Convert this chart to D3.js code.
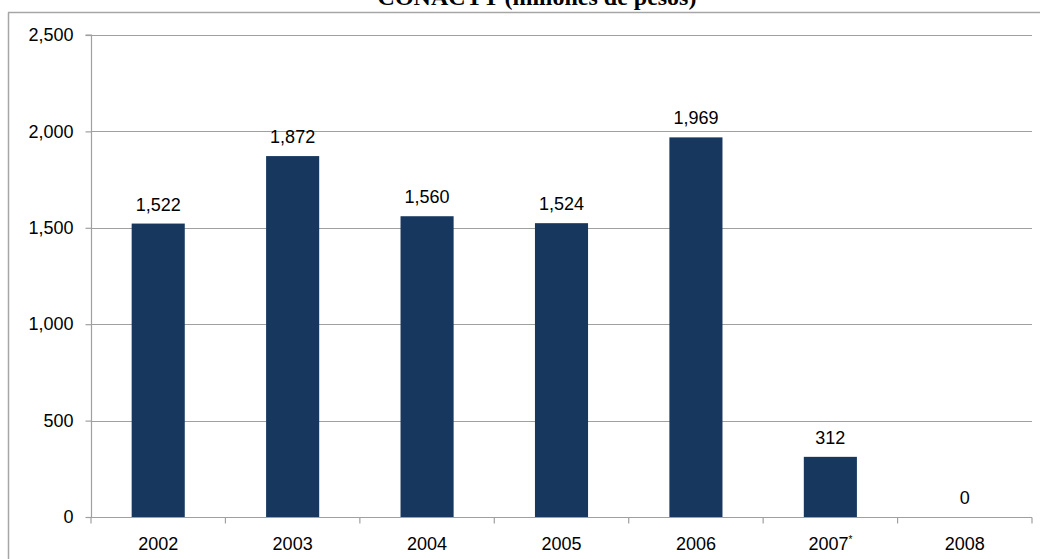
<!DOCTYPE html>
<html><head><meta charset="utf-8">
<script src="https://cdn.jsdelivr.net/npm/d3@7"></script>
<style>body{margin:0;background:#fff}svg{display:block}</style>
</head><body>
<svg id="c" width="1040" height="559"></svg>
<script>
const categories = ["2002","2003","2004","2005","2006","2007","2008"];
const values = [1522,1872,1560,1524,1969,312,0];
const yTicks = [0,500,1000,1500,2000,2500];
const titleText = "CONACYT (millones de pesos)";

const svg = d3.select("#c");
const m = {left:91, right:1032, top:35, bottom:517};
const x = d3.scaleBand().domain(categories).range([m.left,m.right]).paddingInner(0.605).paddingOuter(0.3025);
const y = d3.scaleLinear().domain([0,2500]).range([m.bottom,m.top]);
const fmt = d3.format(",");
const font = "'Liberation Sans', Arial, sans-serif";
const fs = 18;

// outer frame
svg.append("line").attr("x1",8.5).attr("x2",8.5).attr("y1",12.5).attr("y2",559).attr("stroke","#a6a6a6").attr("stroke-width",1.5);
svg.append("line").attr("x1",8).attr("x2",1040).attr("y1",12.5).attr("y2",12.5).attr("stroke","#a6a6a6").attr("stroke-width",1.5);

// title
svg.append("text").attr("x",537).attr("y",5).attr("text-anchor","middle")
  .attr("font-family","'Liberation Serif','Times New Roman',serif").attr("font-weight","bold").attr("font-size",24)
  .text(titleText);

// gridlines
svg.append("g").selectAll("line").data(yTicks.filter(d=>d>0)).join("line")
  .attr("x1",m.left).attr("x2",m.right).attr("y1",d=>Math.round(y(d))+0.5).attr("y2",d=>Math.round(y(d))+0.5)
  .attr("stroke","#a0a0a0").attr("stroke-width",1.2);

// y axis
const ya = svg.append("g").attr("transform",`translate(${m.left+0.5},0)`)
  .call(d3.axisLeft(y).tickValues(yTicks).tickFormat(fmt).tickSize(6).tickPadding(12));
ya.select(".domain").attr("stroke","#a0a0a0").attr("stroke-width",1.2).attr("d",`M-6,${m.top}H0V${m.bottom}`);
ya.selectAll(".tick line").attr("stroke","#a0a0a0").attr("stroke-width",1.2);
ya.selectAll("text").attr("font-family",font).attr("font-size",fs).attr("fill","#000");

// bars
svg.append("g").selectAll("rect").data(values).join("rect")
  .attr("x",(d,i)=>x(categories[i])).attr("width",x.bandwidth())
  .attr("y",d=>y(d)).attr("height",d=>y(0)-y(d)).attr("fill","#17375e");

// x axis
const xa = svg.append("g").attr("transform",`translate(0,${Math.round(m.bottom)+0.5})`);
xa.append("line").attr("x1",m.left).attr("x2",m.right).attr("stroke","#a0a0a0").attr("stroke-width",1.2);
const step = x.step();
const bounds = d3.range(categories.length+1).map(i=>m.left+i*step);
xa.selectAll("line.tk").data(bounds).join("line").attr("class","tk")
  .attr("x1",d=>d).attr("x2",d=>d).attr("y1",0).attr("y2",6).attr("stroke","#a0a0a0").attr("stroke-width",1.2);
const xl = xa.selectAll("text").data(categories).join("text")
  .attr("x",d=>x(d)+x.bandwidth()/2).attr("y",32).attr("text-anchor","middle")
  .attr("font-family",font).attr("font-size",fs).attr("fill","#000");
xl.append("tspan").text(d=>d);
xl.filter(d=>d==="2007").append("tspan").attr("font-size",10).attr("dy",-7).text("*");

// value labels
svg.append("g").selectAll("text").data(values).join("text")
  .attr("x",(d,i)=>x(categories[i])+x.bandwidth()/2).attr("y",d=>y(d)-13)
  .attr("text-anchor","middle").attr("font-family",font).attr("font-size",fs).attr("fill","#000")
  .text(d=>fmt(d));
</script>
</body></html>
